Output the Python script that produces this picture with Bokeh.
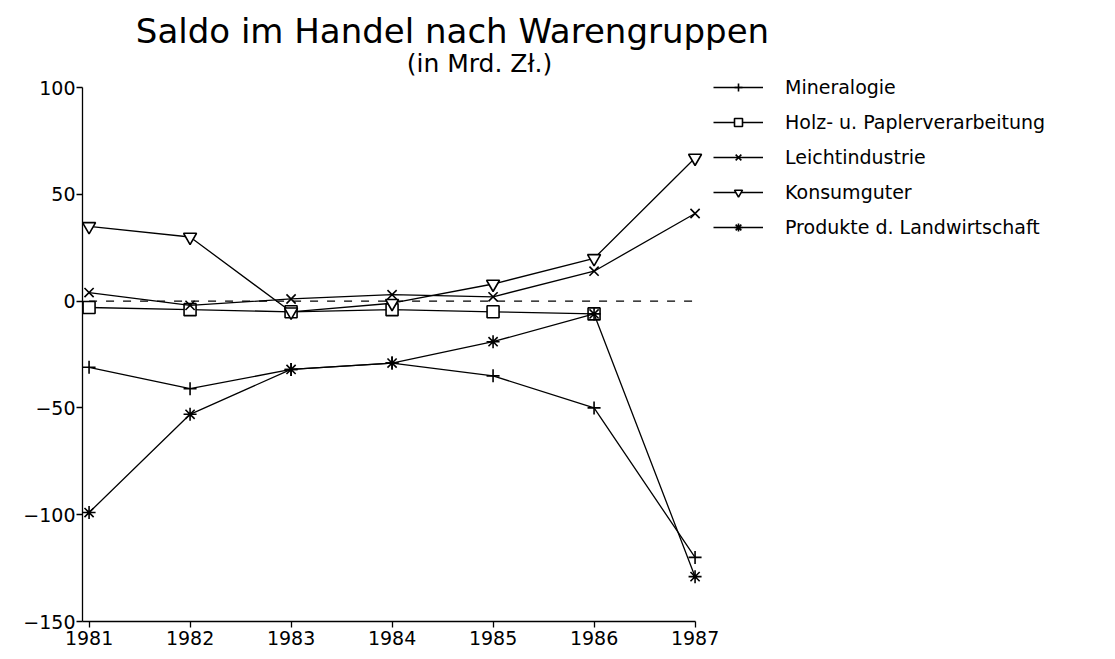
from bokeh.plotting import figure
from bokeh.models import Legend, LegendItem, Label, FixedTicker, Range1d, ColumnDataSource
from bokeh.embed import file_html
from bokeh.resources import INLINE

# ---- data ----
years = [1981, 1982, 1983, 1984, 1985, 1986, 1987]
mineralogie = [-31, -41, -32, -29, -35, -50, -120]
holz_papier = [-3, -4, -5, -4, -5, -6, float("nan")]
leichtindustrie = [4, -2, 1, 3, 2, 14, 41]
konsumgueter = [35, 30, -5, -1, 8, 20, 67]
landwirtschaft = [-99, -53, -32, -29, -19, -6, -129]

series_names = ["Mineralogie", "Holz- u. Paplerverarbeitung", "Leichtindustrie",
                "Konsumguter", "Produkte d. Landwirtschaft"]
ytick_vals = [-150, -100, -50, 0, 50, 100]
ytick_labels = ["\u2212150", "\u2212100", "\u221250", "0", "50", "100"]
xtick_labels = ["1981", "1982", "1983", "1984", "1985", "1986", "1987"]
title_text = "Saldo im Handel nach Warengruppen"
subtitle_text = "(in Mrd. Z\u0142.)"

# ---- layout constants (pixels) ----
FONT = "DejaVu Sans"
W, H = 1110, 656
LEFT, TOP, BOTTOM = 82, 0, 35
PX_PER_YEAR = 101.0
PX_PER_UNIT = 2.136
XPAD = 0.065                       # room for the end markers
x_lo = years[0] - XPAD
x_hi = x_lo + (W - LEFT) / PX_PER_YEAR
y_lo = ytick_vals[0]
y_hi = y_lo + (H - TOP - BOTTOM) / PX_PER_UNIT
FRAME_BOTTOM = H - BOTTOM


def px_to_x(px):
    return x_lo + (px - LEFT) / PX_PER_YEAR


def px_to_y(py):
    return y_lo + (FRAME_BOTTOM - py) / PX_PER_UNIT


p = figure(width=W, height=H, output_backend="svg", toolbar_location=None,
           x_range=Range1d(x_lo, x_hi), y_range=Range1d(y_lo, y_hi),
           min_border_left=LEFT, min_border_right=0, min_border_top=TOP,
           min_border_bottom=BOTTOM)
p.xgrid.visible = False
p.ygrid.visible = False
p.outline_line_color = None
p.background_fill_color = "white"

# axes
xa = p.xaxis[0]
xa.ticker = FixedTicker(ticks=years)
xa.major_label_overrides = {str(y): l for y, l in zip(years, xtick_labels)}
xa.bounds = (x_lo, years[-1])
ya = p.yaxis[0]
ya.ticker = FixedTicker(ticks=ytick_vals)
ya.major_label_overrides = {str(v): l for v, l in zip(ytick_vals, ytick_labels)}
ya.bounds = (ytick_vals[0], ytick_vals[-1])
for ax in (xa, ya):
    ax.axis_line_color = "black"
    ax.axis_line_width = 1.3
    ax.major_tick_line_color = "black"
    ax.major_tick_line_width = 1.3
    ax.major_tick_in = 0
    ax.major_tick_out = 6
    ax.minor_tick_line_color = None
    ax.major_label_text_font = FONT
    ax.major_label_text_font_size = "19px"
    ax.major_label_text_color = "black"
ya.major_label_standoff = 1
xa.major_label_standoff = 3

# zero reference line
zsrc = ColumnDataSource(dict(x=[years[0], years[-1]], y=[0, 0]))
p.line("x", "y", source=zsrc, line_color="black", line_width=1.2, line_dash="8 9")

series = [mineralogie, holz_papier, leichtindustrie, konsumgueter, landwirtschaft]
markers = ["cross", "square", "x", "inverted_triangle", "asterisk"]
sizes = [13, 12, 13, 13, 13]

items = []
for name, vals, mk, sz in zip(series_names, series, markers, sizes):
    src = ColumnDataSource(dict(x=years, y=vals))
    lr = p.line("x", "y", source=src, line_color="black", line_width=1.3)
    sr = p.scatter("x", "y", source=src, marker=mk, size=sz, line_color="black",
                   line_width=1.6, fill_color="white" if mk in ("square", "inverted_triangle") else None)
    items.append(LegendItem(label=name, renderers=[lr, sr]))

legend = Legend(items=items, location=(631, 383), orientation="vertical",
                glyph_width=50, glyph_height=20, label_height=20, spacing=13,
                label_standoff=22, padding=0, margin=0,
                label_text_font=FONT, label_text_font_size="19px",
                label_text_color="black",
                border_line_color=None, background_fill_alpha=0)
p.add_layout(legend, "center")

# title and subtitle
p.add_layout(Label(x=px_to_x(452), y=px_to_y(30), text=title_text,
                   text_font=FONT, text_font_size="34px", text_color="black",
                   text_align="center", text_baseline="middle"))
p.add_layout(Label(x=px_to_x(479), y=px_to_y(63), text=subtitle_text,
                   text_font=FONT, text_font_size="25px", text_color="black",
                   text_align="center", text_baseline="middle"))

open("out.html", "w").write(file_html(p, INLINE))
